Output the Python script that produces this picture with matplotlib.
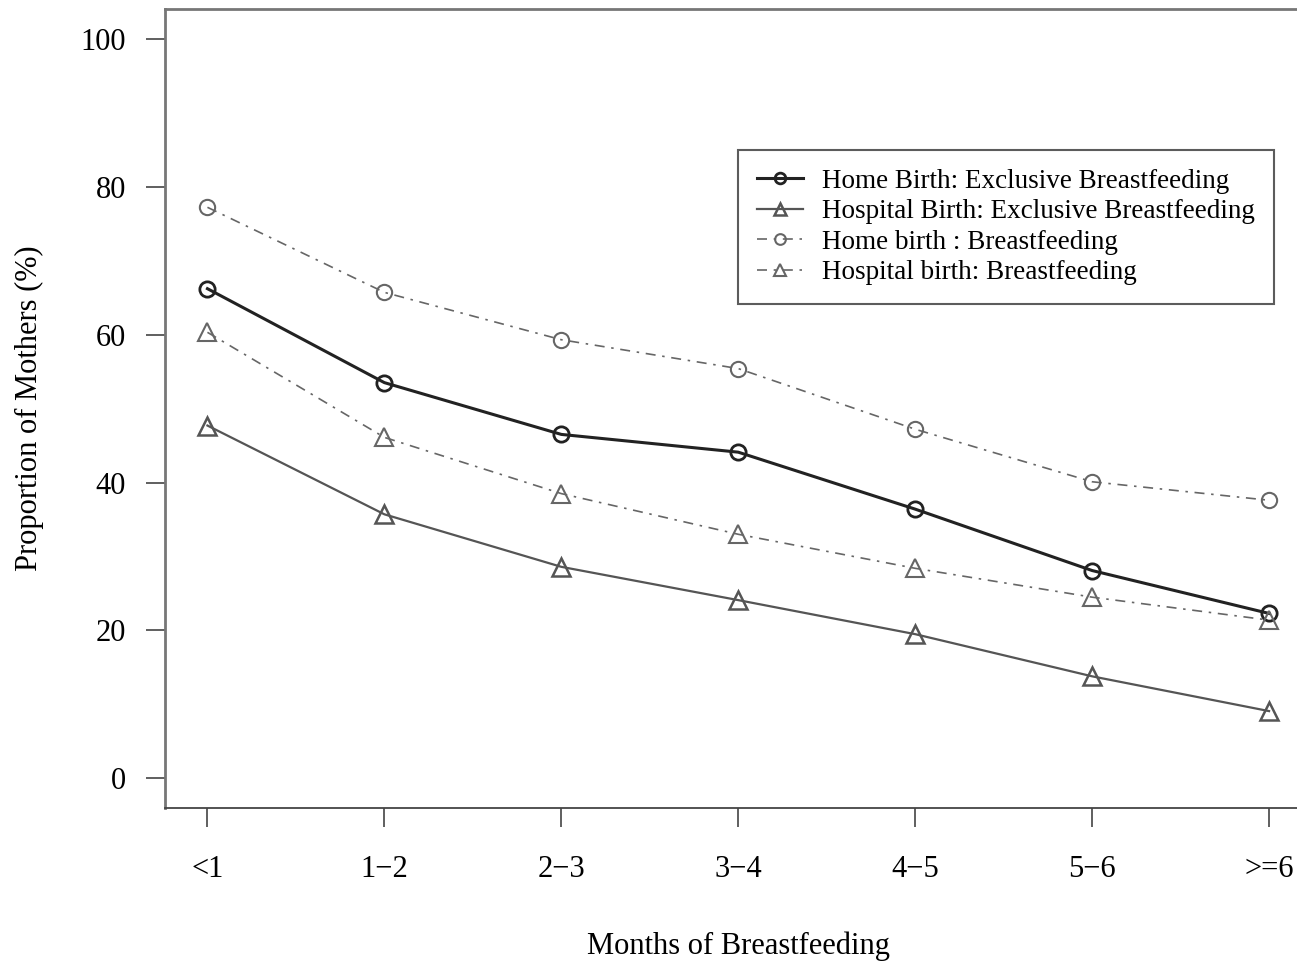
import matplotlib
matplotlib.use("Agg")
import matplotlib.pyplot as plt

# data
months = ["<1", "1\u22122", "2\u22123", "3\u22124", "4\u22125", "5\u22126", ">=6"]
home_excl = [66.2, 53.5, 46.5, 44.1, 36.4, 28.1, 22.3]
hosp_excl = [47.7, 35.7, 28.6, 24.1, 19.5, 13.8, 9.1]
home_bf = [77.2, 65.7, 59.3, 55.4, 47.2, 40.1, 37.6]
hosp_bf = [60.3, 46.1, 38.5, 33.0, 28.4, 24.5, 21.4]

plt.rcParams['font.family'] = ['Liberation Serif', 'DejaVu Serif']

fig = plt.figure(figsize=(12.97, 9.61), dpi=100)
ax = fig.add_axes([0.1272, 0.1592, 0.884, 0.8314])
x = list(range(1, len(months) + 1))

ax.plot(x, home_excl, color="#222222", lw=2.2, marker='o', ms=11, mfc='none',
        mew=2.0, label='Home Birth: Exclusive Breastfeeding')
ax.plot(x, hosp_excl, color="#555555", lw=1.6, marker='^', ms=13, mfc='none',
        mew=1.8, label='Hospital Birth: Exclusive Breastfeeding')
ax.plot(x, home_bf, color="#666666", lw=1.2, ls=(0, (6, 4, 1.5, 4)), marker='o', ms=11,
        mfc='none', mew=1.5, label='Home birth : Breastfeeding')
ax.plot(x, hosp_bf, color="#666666", lw=1.2, ls=(0, (6, 4, 1.5, 4)), marker='^', ms=13,
        mfc='none', mew=1.5, label='Hospital birth: Breastfeeding')

ax.set_xlim(0.76, 7.24)
ax.set_ylim(-4, 104)
ax.set_xticks(x)
ax.set_xticklabels(months)
ax.set_yticks([0, 20, 40, 60, 80, 100])
ax.tick_params(axis='both', labelsize=22, length=14, width=1.2, color="#444444")
ax.tick_params(axis='x', pad=20)
ax.tick_params(axis='y', pad=14)
for s in ax.spines.values():
    s.set_color("#777777")
    s.set_linewidth(2)
ax.spines['bottom'].set_color("#444444")
ax.spines['bottom'].set_linewidth(1.3)

ax.set_xlabel("Months of Breastfeeding", fontsize=22, labelpad=34)
ax.set_ylabel("Proportion of Mothers (%)", fontsize=22, labelpad=26)

leg = ax.legend(loc='upper left', bbox_to_anchor=(0.569, 0.844), bbox_transform=fig.transFigure,
                fontsize=19.5, frameon=True, fancybox=False, edgecolor="#333333",
                handlelength=1.7, borderpad=0.7, labelspacing=0.2, handletextpad=0.7,
                markerscale=0.7, borderaxespad=0)
leg.get_frame().set_linewidth(1.5)

plt.savefig("out.png", dpi=100)
